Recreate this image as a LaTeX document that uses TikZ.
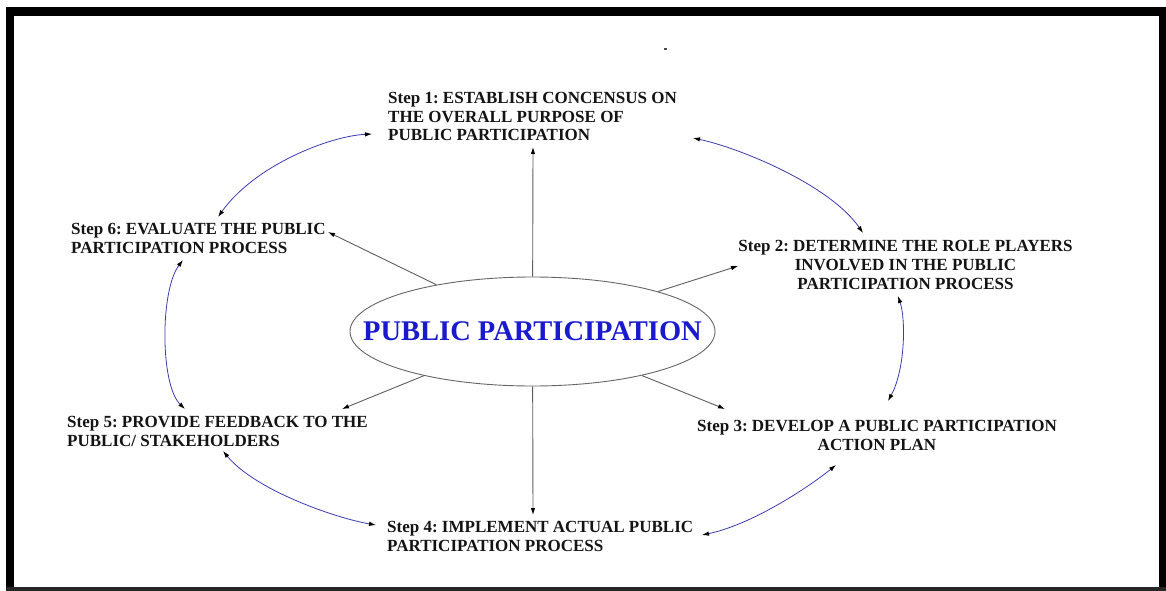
\documentclass[tikz,border=0pt]{standalone}
\usepackage{fontspec}
\setmainfont{Liberation Serif}
\usetikzlibrary{arrows.meta,shapes.geometric}
\definecolor{linkgrey}{RGB}{95,95,95}
\definecolor{ringblue}{RGB}{60,60,175}
\definecolor{titleblue}{RGB}{25,25,205}
\frenchspacing
\begin{document}
\begin{tikzpicture}[x=1pt,y=-1pt,
  stepbox/.style={inner sep=0pt, font=\fontsize{17}{19}\selectfont\bfseries, text=black!92},
  spoke/.style={draw=linkgrey, line width=0.9pt, -{Latex[length=7pt,width=4.5pt,color=black]}},
  ringlink/.style={draw=ringblue, line width=0.8pt,
    {Latex[length=7pt,width=4.5pt,color=black]}-{Latex[length=7pt,width=4.5pt,color=black]}},
  hub/.style={ellipse, draw=black!60, line width=0.9pt, minimum width=365pt,
    minimum height=109pt, inner sep=0pt,
    font=\fontsize{28.5}{30}\selectfont\bfseries, text=titleblue}]

\useasboundingbox (0,0) rectangle (1166,591);
\fill[white] (0,0) rectangle (1166,591);

% outer frame
\fill[black] (6,7) rectangle (1166,16);
\fill[black] (6,7) rectangle (14,588);
\fill[black] (1159,7) rectangle (1166,588);
\fill[black!85] (6,587) rectangle (1166,591);
\fill[black!70] (664,48.5) rectangle (667,49.8);

% central ellipse
\node[hub] (hub) at (532.5,331.5) {\makebox[0pt]{PUBLIC PARTICIPATION}};

% the six steps (base anchor = baseline of the last line)
\node[stepbox, font=\fontsize{17}{18}\selectfont\bfseries, anchor=base west, align=left] (s1) at (388,140)
  {Step 1: ESTABLISH CONCENSUS ON\\THE OVERALL PURPOSE OF\\PUBLIC PARTICIPATION};
\node[stepbox, anchor=base, align=center] (s2) at (905.5,289)
  {Step 2: DETERMINE THE ROLE PLAYERS\\INVOLVED IN THE PUBLIC\\PARTICIPATION PROCESS};
\node[stepbox, anchor=base, align=center] (s3) at (877,450)
  {Step 3: DEVELOP A PUBLIC PARTICIPATION\\ACTION PLAN};
\node[stepbox, anchor=base west, align=left] (s4) at (387,551)
  {Step 4: IMPLEMENT ACTUAL PUBLIC\\PARTICIPATION PROCESS};
\node[stepbox, anchor=base west, align=left] (s5) at (67,446)
  {Step 5: PROVIDE FEEDBACK TO THE\\PUBLIC/ STAKEHOLDERS};
\node[stepbox, anchor=base west, align=left] (s6) at (71,253)
  {Step 6: EVALUATE THE PUBLIC\\PARTICIPATION PROCESS};

% arrow ends next to the step texts
\coordinate (p1) at (533,147);
\coordinate (p2) at (738,266);
\coordinate (p3) at (725,409);
\coordinate (p4) at (533,515);
\coordinate (p5) at (342,409);
\coordinate (p6) at (328,232);

\coordinate (s1w) at (372,134);
\coordinate (s1e) at (693,138);
\coordinate (s2n) at (863,233);
\coordinate (s2s) at (898,296);
\coordinate (s3n) at (888,401);
\coordinate (s3s) at (836,465);
\coordinate (s4e) at (702,535);
\coordinate (s4w) at (376,525);
\coordinate (s5s) at (223,451);
\coordinate (s5n) at (185,409);
\coordinate (s6s) at (183,260);
\coordinate (s6n) at (218,217);

% spokes from the ellipse
\foreach \p in {p1,p2,p3,p4,p5,p6}
  \draw[spoke] (hub) -- (\p);

% cycle between neighbouring steps
\draw[ringlink] (s1w) .. controls (330,136) and (255,165) .. (s6n);
\draw[ringlink] (s1e) .. controls (740,148) and (830,185) .. (s2n);
\draw[ringlink] (s2s) .. controls (906,320) and (905,370) .. (s3n);
\draw[ringlink] (s3s) .. controls (805,490) and (750,525) .. (s4e);
\draw[ringlink] (s4w) .. controls (335,518) and (255,490) .. (s5s);
\draw[ringlink] (s5n) .. controls (160,385) and (160,290) .. (s6s);
\end{tikzpicture}
\end{document}
